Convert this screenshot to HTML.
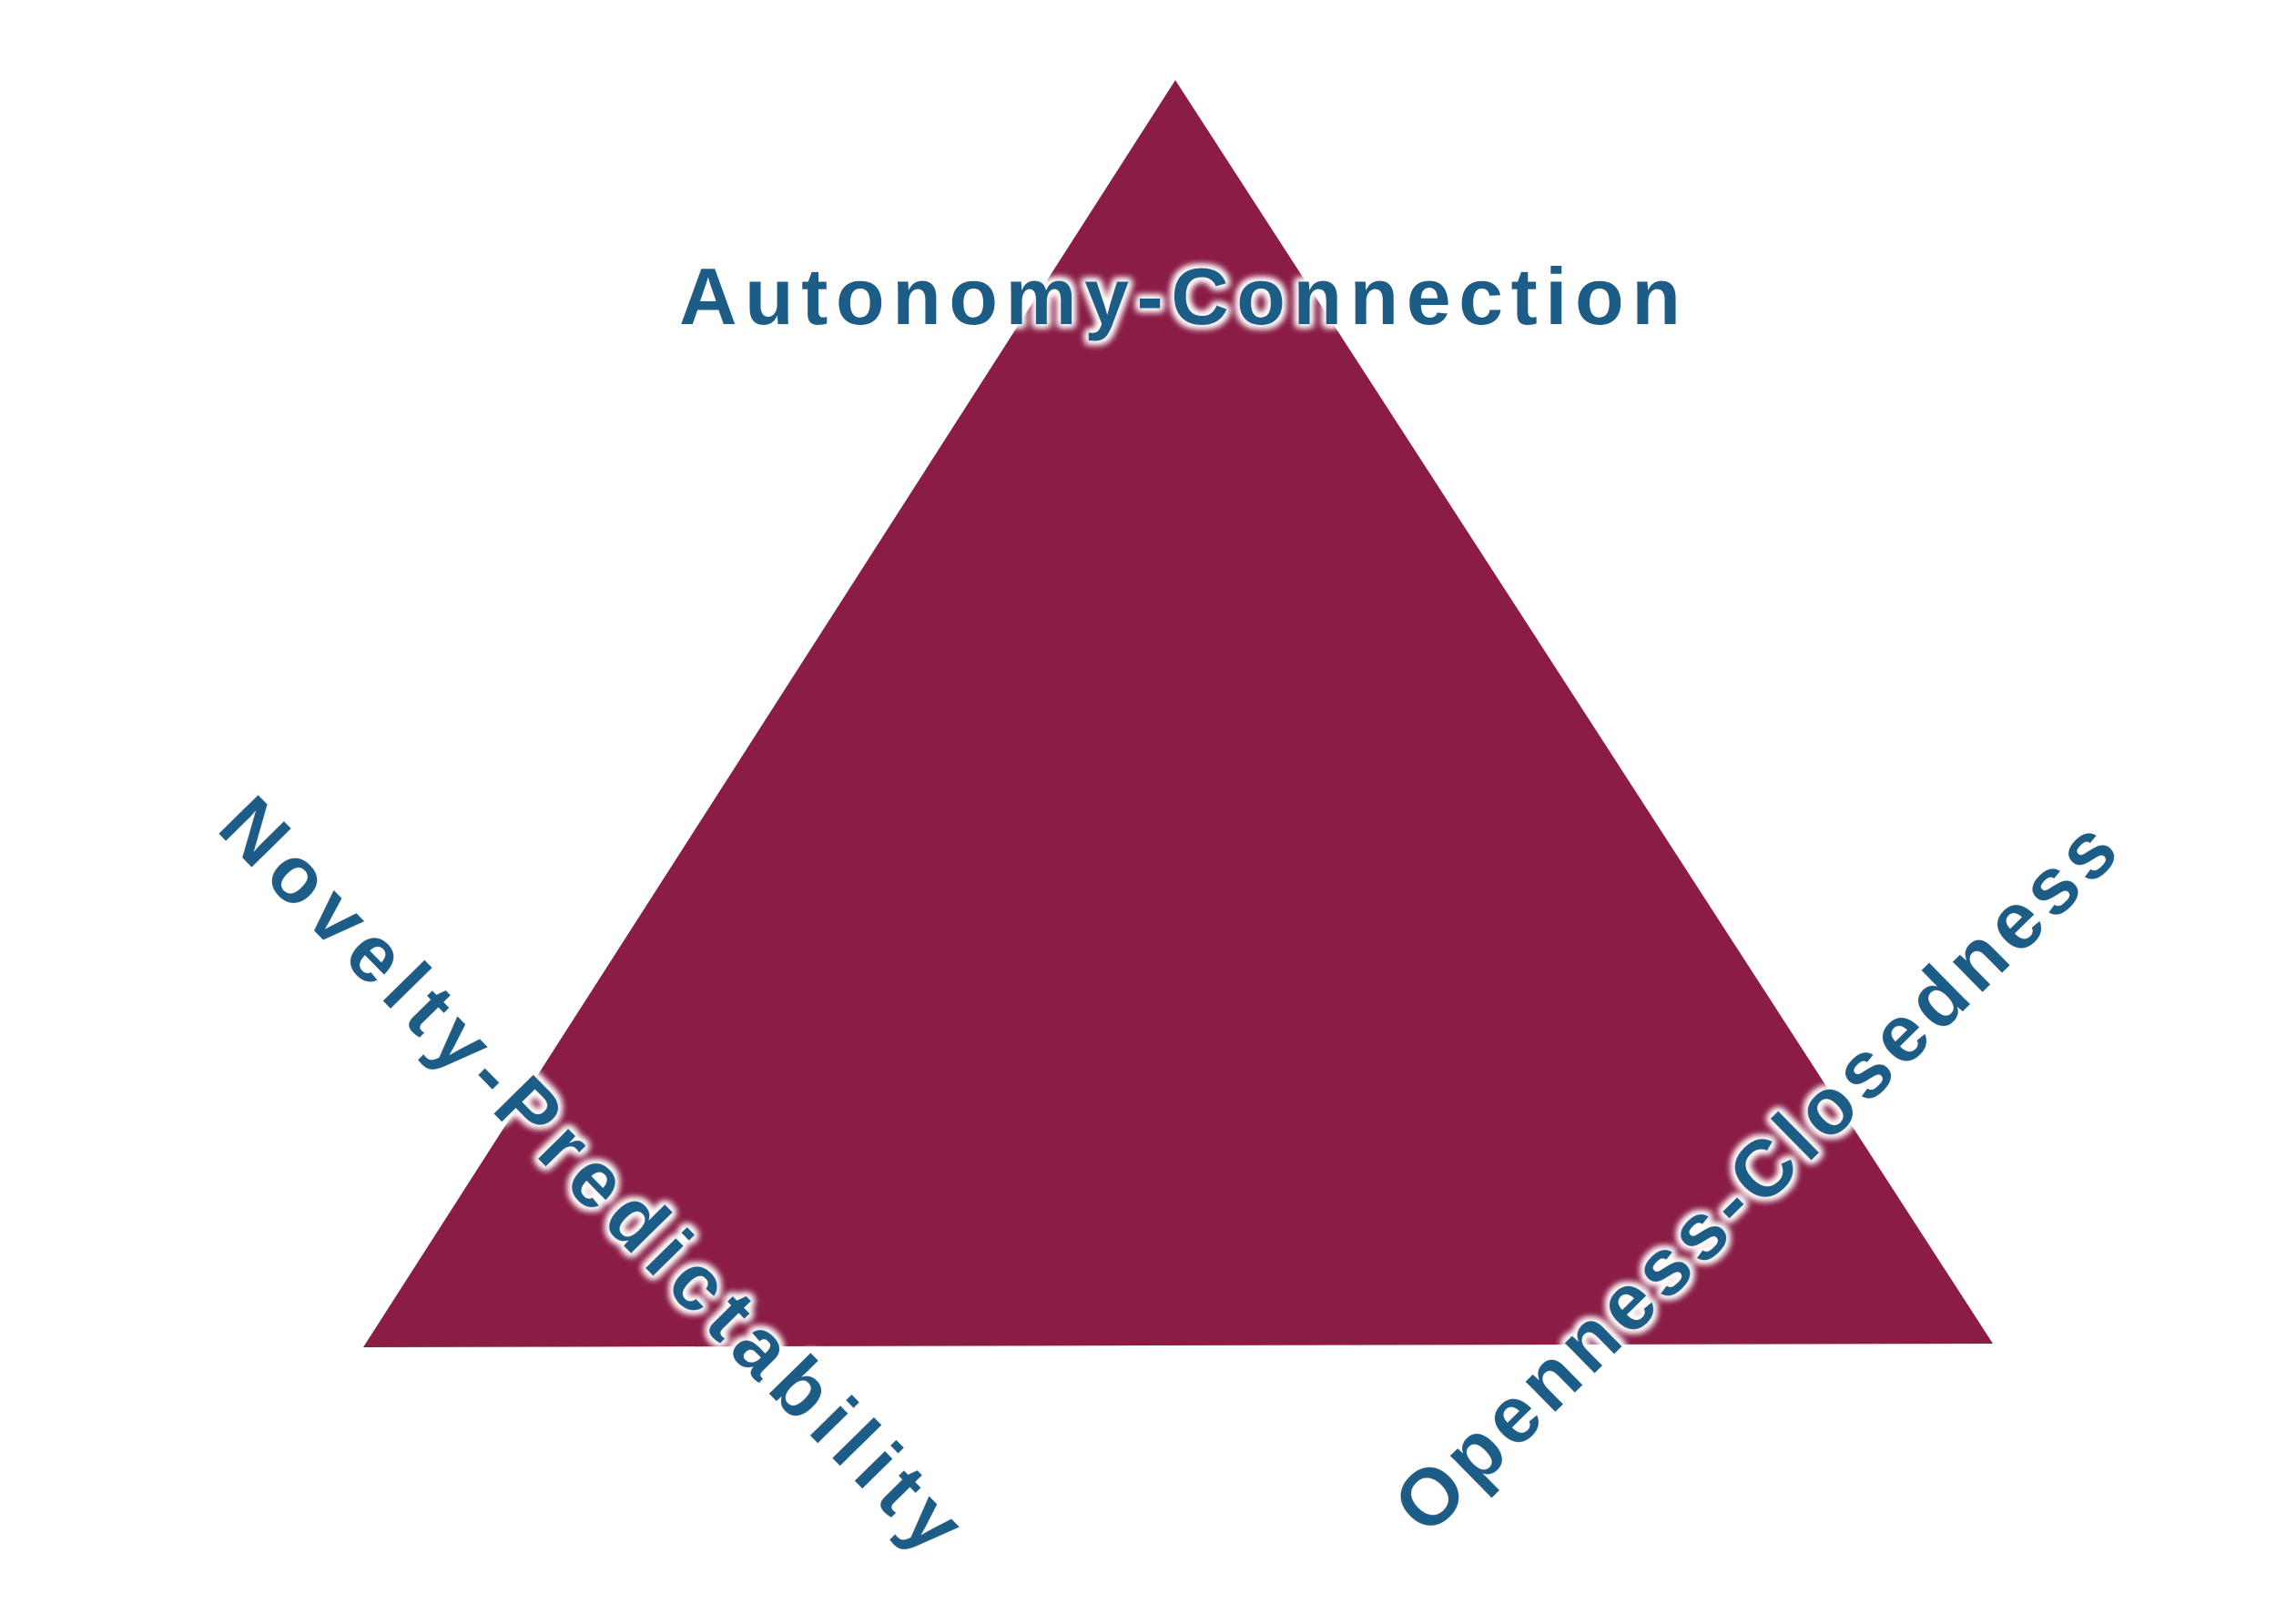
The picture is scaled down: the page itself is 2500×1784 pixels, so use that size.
<!DOCTYPE html>
<html><head><meta charset="utf-8"><style>html,body{margin:0;padding:0;background:#fff}svg{display:block}</style></head>
<body>
<svg width="2500" height="1784" viewBox="0 0 2500 1784" xmlns="http://www.w3.org/2000/svg">
<defs>
<filter id="g" x="-10%" y="-30%" width="120%" height="160%">
<feMorphology in="SourceAlpha" operator="dilate" radius="3" result="d"/>
<feGaussianBlur in="d" stdDeviation="4" result="b"/>
<feFlood flood-color="#ffffff"/>
<feComposite in2="b" operator="in" result="w"/>
<feMerge><feMergeNode in="w"/><feMergeNode in="w"/><feMergeNode in="SourceGraphic"/></feMerge>
</filter>
</defs>
<polygon points="1291,88 399,1480 2189,1476" fill="#8A1C45"/>
<g font-family="Liberation Sans, sans-serif" font-weight="bold" fill="#1E5D87" font-size="88" filter="url(#g)">
<text x="1296" y="356" text-anchor="middle" textLength="1100" lengthAdjust="spacing">Autonomy-Connection</text>
<text transform="translate(650,1290) rotate(45.5)" x="0" y="30" text-anchor="middle" textLength="1120" lengthAdjust="spacing">Novelty-Predictability</text>
<text transform="translate(1928,1293) rotate(-44.5)" x="0" y="30" text-anchor="middle" textLength="1070" lengthAdjust="spacing">Openness-Closedness</text>
</g>
</svg>
</body></html>
